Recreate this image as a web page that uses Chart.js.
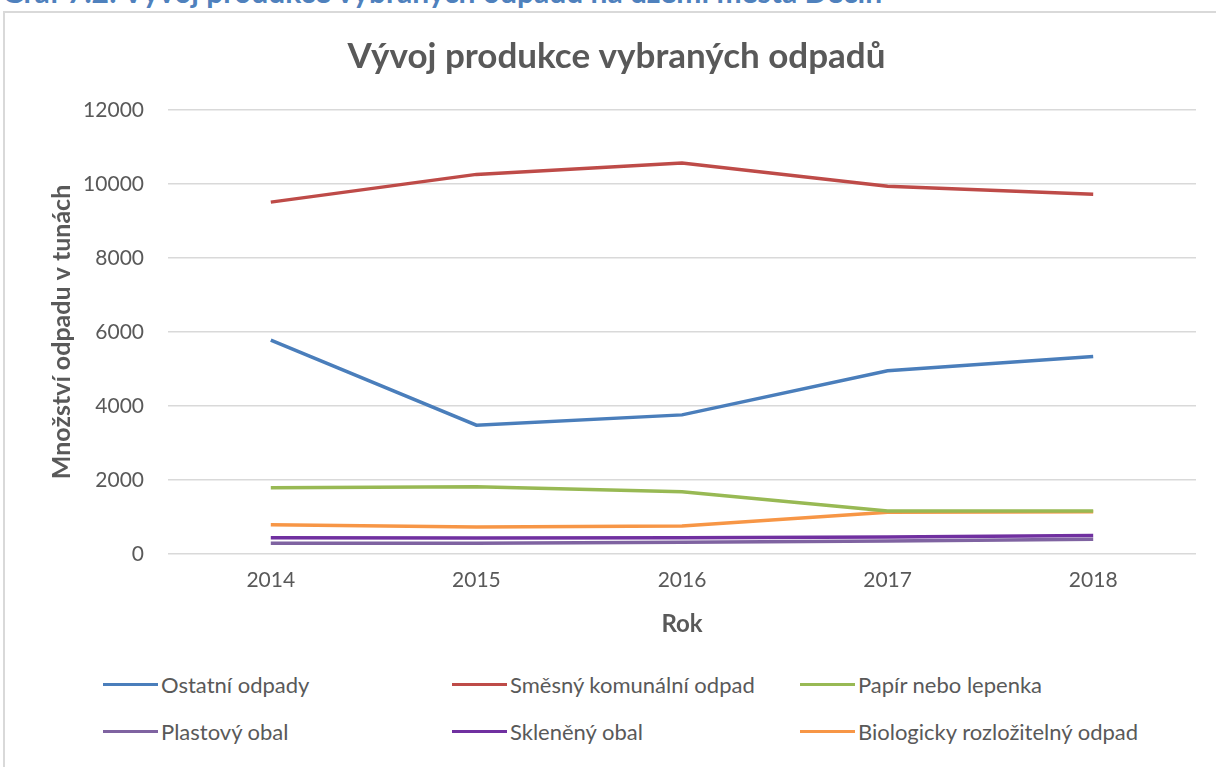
<!DOCTYPE html>
<html>
<head>
<meta charset="utf-8">
<script src="https://cdn.jsdelivr.net/npm/chart.js@4"></script>
<style>
  html, body { margin: 0; padding: 0; background: #fff; overflow: hidden; width: 1216px; height: 767px; }
  body { position: relative; font-family: Lato, "Open Sans", sans-serif; }
  #caption { position: absolute; left: 2px; top: -27px; font: bold 30px Lato, sans-serif; color: #4f81bd; white-space: nowrap; }
  #frame { position: absolute; left: 3px; top: 11px; width: 1300px; height: 800px; border-left: 2px solid #d9d9d9; border-top: 2px solid #d9d9d9; }
  #wrap { position: absolute; left: 0; top: 0; width: 1240px; height: 660px; }
  #legend { position: absolute; left: 0; top: 671px; width: 1216px; }
  .item { position: absolute; display: flex; align-items: center; font-size: 22px; color: #595959; white-space: nowrap; }
  .item span.swatch { display: inline-block; width: 55px; height: 3.5px; margin-right: 3px; }
</style>
</head>
<body>
<div id="caption">Graf 7.2: Vývoj produkce vybraných odpadů na území města Děčín</div>
<div id="frame"></div>
<div id="wrap"><canvas id="chart" width="1240" height="660"></canvas></div>
<div id="legend"></div>
<script>
// roky
const years = ['2014', '2015', '2016', '2017', '2018'];

// hodnoty v tunách
const ostatni = [5780, 3480, 3760, 4950, 5340];
const smesny = [9510, 10260, 10570, 9940, 9720];
const papir = [1790, 1820, 1680, 1160, 1160];
const plast = [290, 290, 320, 350, 400];
const sklo = [440, 430, 440, 460, 500];
const bio = [790, 730, 760, 1130, 1140];

const seriesNames = ['Ostatní odpady', 'Směsný komunální odpad', 'Papír nebo lepenka', 'Plastový obal', 'Skleněný obal', 'Biologicky rozložitelný odpad'];
const seriesData = [ostatni, smesny, papir, plast, sklo, bio];
const seriesColors = ['#4a7ebb', '#be4b48', '#98b954', '#7f63a1', '#7030a0', '#f79646'];

const textColor = '#595959';
const gridColor = '#d9d9d9';

const datasets = seriesNames.map((name, i) => ({
    label: name,
    data: seriesData[i],
    borderColor: seriesColors[i],
    backgroundColor: seriesColors[i],
    borderWidth: 3.5,
    pointRadius: 0,
    tension: 0,
    fill: false
}));

new Chart(document.getElementById('chart').getContext('2d'), {
    type: 'line',
    data: { labels: years, datasets: datasets },
    options: {
        responsive: false,
        animation: false,
        layout: { padding: { left: 37, right: 44, top: 0, bottom: 0 } },
        plugins: {
            legend: { display: false },
            tooltip: { enabled: false },
            title: {
                display: true,
                text: 'Vývoj produkce vybraných odpadů',
                color: textColor,
                font: { family: 'Lato', size: 35, weight: 'bold' },
                padding: { top: 36, bottom: 32 }
            }
        },
        scales: {
            x: {
                offset: true,
                grid: { display: false, drawTicks: false },
                border: { display: false },
                ticks: { color: textColor, font: { family: 'Lato', size: 21 }, padding: 14 },
                title: {
                    display: true,
                    text: 'Rok',
                    color: textColor,
                    font: { family: 'Lato', size: 24, weight: 'bold' },
                    padding: { top: 0, bottom: 21 }
                },
                afterFit: s => { s.height = 106; }
            },
            y: {
                min: 0,
                max: 12000,
                grid: { color: gridColor, lineWidth: 1.5, drawTicks: false },
                border: { display: false },
                ticks: {
                    stepSize: 2000,
                    color: textColor,
                    font: { family: 'Lato', size: 21 },
                    padding: 24,
                    callback: v => String(v)
                },
                title: {
                    display: true,
                    text: 'Množství odpadu v tunách',
                    color: textColor,
                    font: { family: 'Lato', size: 25, weight: 'bold' },
                    padding: { top: 10, bottom: 0 }
                },
                afterFit: s => { s.width = 131; }
            }
        }
    }
});

// legenda: 3 sloupce, 2 řádky
const legendEl = document.getElementById('legend');
const colX = [103, 452, 800];
const rowY = [0, 47];
seriesNames.forEach((name, i) => {
    const el = document.createElement('div');
    el.className = 'item';
    el.style.left = colX[i % 3] + 'px';
    el.style.top = rowY[Math.floor(i / 3)] + 'px';
    el.innerHTML = '<span class="swatch" style="background:' + seriesColors[i] + '"></span>' + name;
    legendEl.appendChild(el);
});
</script>
</body>
</html>
